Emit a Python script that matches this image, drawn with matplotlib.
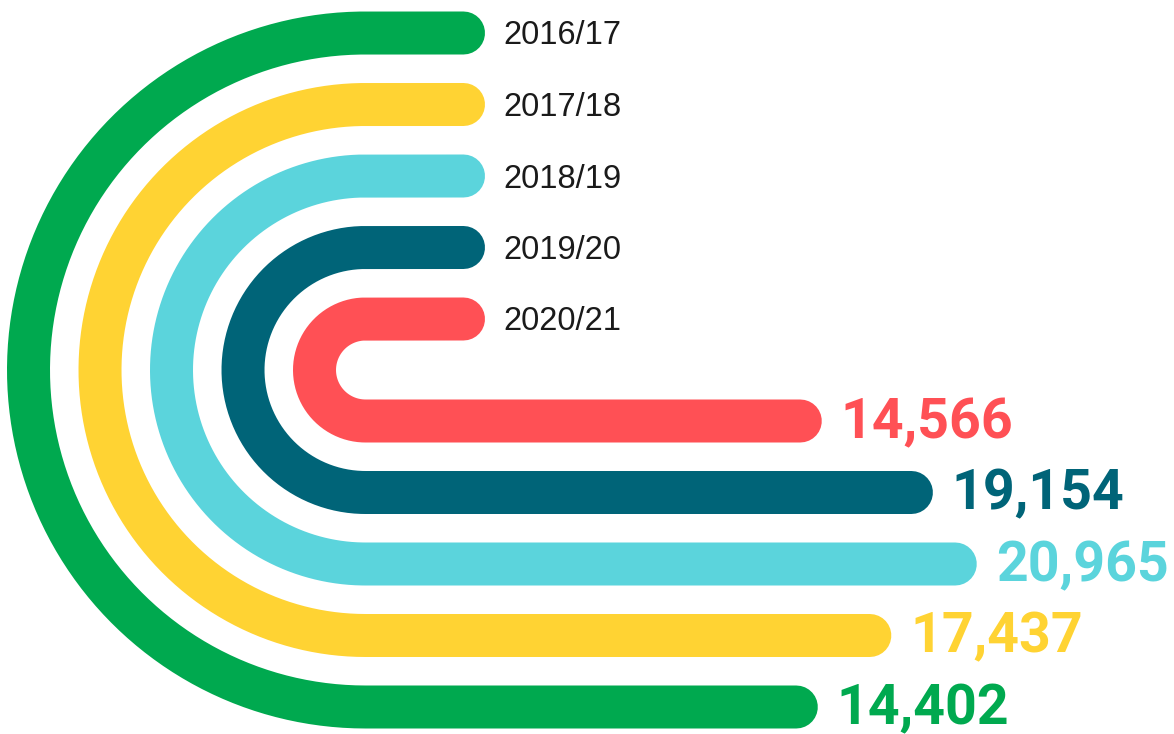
import matplotlib.pyplot as plt
import numpy as np

years = ['2016/17', '2017/18', '2018/19', '2019/20', '2020/21']
values = [14402, 17437, 20965, 19154, 14566]
colors = ['#00A94F', '#FFD333', '#5BD4DC', '#006478', '#FF5055']

# layout, in pixels of the 1174x734 canvas
W, H = 1174, 734
cx, cy = 365.5, 370.0      # centre of the half rings
r_outer = 337.0
gap = 71.5
lw_px = 43.0
stub_end = 463.5           # end of top stubs (cap centre)
x0, k = 469.0, 0.02422     # bar end = x0 + k * value (outer edge of cap)

fig = plt.figure(figsize=(W / 100, H / 100), dpi=100)
ax = fig.add_axes([0, 0, 1, 1])
ax.set_xlim(0, W)
ax.set_ylim(H, 0)
ax.set_aspect('equal')
ax.axis('off')

lw_pt = lw_px * 72 / 100

for i, (yr, v, c) in enumerate(zip(years, values, colors)):
    r = r_outer - i * gap
    end = x0 + k * v - lw_px / 2
    t = np.linspace(-np.pi / 2, -3 * np.pi / 2, 200)
    xs = np.concatenate([[stub_end], cx + r * np.cos(t), [end]])
    ys = np.concatenate([[cy - r], cy + r * np.sin(t), [cy + r]])
    ax.plot(xs, ys, color=c, lw=lw_pt, solid_capstyle='round',
            solid_joinstyle='round')
    ax.text(503, cy - r + 3, yr, fontsize=23.5, family='Liberation Sans',
            color='#1a1a1a', va='center', ha='left')
    ax.text(end + lw_px / 2 + 19, cy + r + 2, f'{v:,}', fontsize=40,
            family='Roboto', weight='semibold', color=c, va='center', ha='left')

fig.savefig('out.png', dpi=100)
